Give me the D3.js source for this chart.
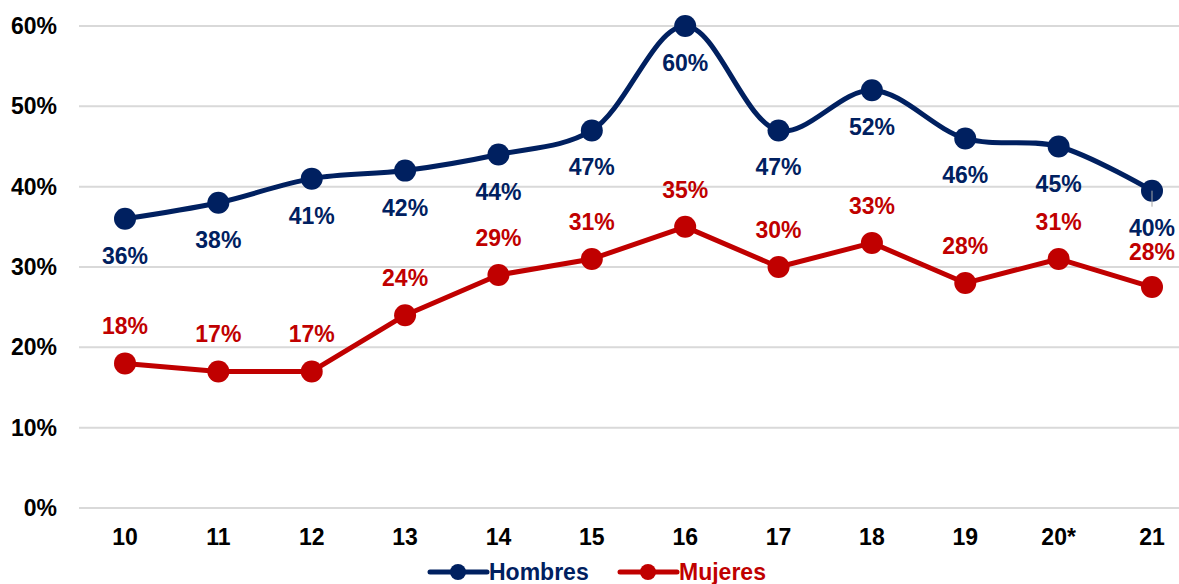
<!DOCTYPE html>
<html>
<head>
<meta charset="utf-8">
<script src="https://cdn.jsdelivr.net/npm/d3@7"></script>
<style>
  body { margin: 0; background: #fff; }
  text { font-family: "Liberation Sans", Arial, sans-serif; font-weight: bold; }
</style>
</head>
<body>
<div id="chart"></div>
<script>
var years = ["10", "11", "12", "13", "14", "15", "16", "17", "18", "19", "20*", "21"];
var hombres = [36, 38, 41, 42, 44, 47, 60, 47, 52, 46, 45, 39.5];
var mujeres = [18, 17, 17, 24, 29, 31, 35, 30, 33, 28, 31, 27.5];
var hombresLabels = ["36%", "38%", "41%", "42%", "44%", "47%", "60%", "47%", "52%", "46%", "45%", "40%"];
var mujeresLabels = ["18%", "17%", "17%", "24%", "29%", "31%", "35%", "30%", "33%", "28%", "31%", "28%"];
var yTicks = [0, 10, 20, 30, 40, 50, 60];

var width = 1179, height = 584;
var blue = "#002060", red = "#c00000";

var svg = d3.select("#chart")
  .append("svg")
  .attr("width", width)
  .attr("height", height);

var x = d3.scalePoint()
  .domain(years)
  .range([125, 1152]);

var y = d3.scaleLinear()
  .domain([0, 60])
  .range([508, 26]);

// gridlines
svg.append("g")
  .selectAll("line")
  .data(yTicks)
  .enter()
  .append("line")
  .attr("x1", 79)
  .attr("x2", width)
  .attr("y1", function(d) { return y(d); })
  .attr("y2", function(d) { return y(d); })
  .style("stroke", "#d9d9d9")
  .style("stroke-width", 2);

// y axis labels
svg.append("g")
  .selectAll("text")
  .data(yTicks)
  .enter()
  .append("text")
  .attr("x", 57)
  .attr("y", function(d) { return y(d) + 8; })
  .attr("text-anchor", "end")
  .attr("font-size", "23px")
  .attr("fill", "#000")
  .text(function(d) { return d + "%"; });

// x axis labels
svg.append("g")
  .selectAll("text")
  .data(years)
  .enter()
  .append("text")
  .attr("x", function(d) { return x(d); })
  .attr("y", 545)
  .attr("text-anchor", "middle")
  .attr("font-size", "23px")
  .attr("fill", "#000")
  .text(function(d) { return d; });

function drawSeries(values, color, curve) {
  var line = d3.line()
    .x(function(d, i) { return x(years[i]); })
    .y(function(d) { return y(d); })
    .curve(curve);

  svg.append("path")
    .datum(values)
    .attr("d", line)
    .style("fill", "none")
    .style("stroke", color)
    .style("stroke-width", 5)
    .style("stroke-linejoin", "round");

  svg.append("g")
    .selectAll("circle")
    .data(values)
    .enter()
    .append("circle")
    .attr("cx", function(d, i) { return x(years[i]); })
    .attr("cy", function(d) { return y(d); })
    .attr("r", 11)
    .style("fill", color);
}

drawSeries(mujeres, red, d3.curveLinear);
drawSeries(hombres, blue, d3.curveCatmullRom.alpha(0.5));

// leader line for the last Hombres label
svg.append("line")
  .attr("x1", x(years[11]))
  .attr("x2", x(years[11]))
  .attr("y1", y(hombres[11]))
  .attr("y2", y(hombres[11]) + 16)
  .style("stroke", "#a6a6a6")
  .style("stroke-width", 1);

// data labels
svg.append("g")
  .selectAll("text")
  .data(hombres)
  .enter()
  .append("text")
  .attr("x", function(d, i) { return x(years[i]); })
  .attr("y", function(d) { return y(d) + 45; })
  .attr("text-anchor", "middle")
  .attr("font-size", "23px")
  .attr("fill", blue)
  .text(function(d, i) { return hombresLabels[i]; });

svg.append("g")
  .selectAll("text")
  .data(mujeres)
  .enter()
  .append("text")
  .attr("x", function(d, i) { return x(years[i]); })
  .attr("y", function(d, i) { return y(d) - (i == 11 ? 27 : 29); })
  .attr("text-anchor", "middle")
  .attr("font-size", "23px")
  .attr("fill", red)
  .text(function(d, i) { return mujeresLabels[i]; });

// legend
var legend = [
  { name: "Hombres", color: blue, x: 430 },
  { name: "Mujeres", color: red, x: 620 }
];

var lg = svg.append("g")
  .selectAll("g")
  .data(legend)
  .enter()
  .append("g")
  .attr("transform", function(d) { return "translate(" + d.x + ",572)"; });

lg.append("line")
  .attr("x1", 0)
  .attr("x2", 57)
  .style("stroke", function(d) { return d.color; })
  .style("stroke-width", 5)
  .style("stroke-linecap", "round");

lg.append("circle")
  .attr("cx", 28)
  .attr("r", 8)
  .style("fill", function(d) { return d.color; });

lg.append("text")
  .attr("x", 59)
  .attr("y", 8)
  .attr("font-size", "23px")
  .attr("fill", function(d) { return d.color; })
  .text(function(d) { return d.name; });
</script>
</body>
</html>
